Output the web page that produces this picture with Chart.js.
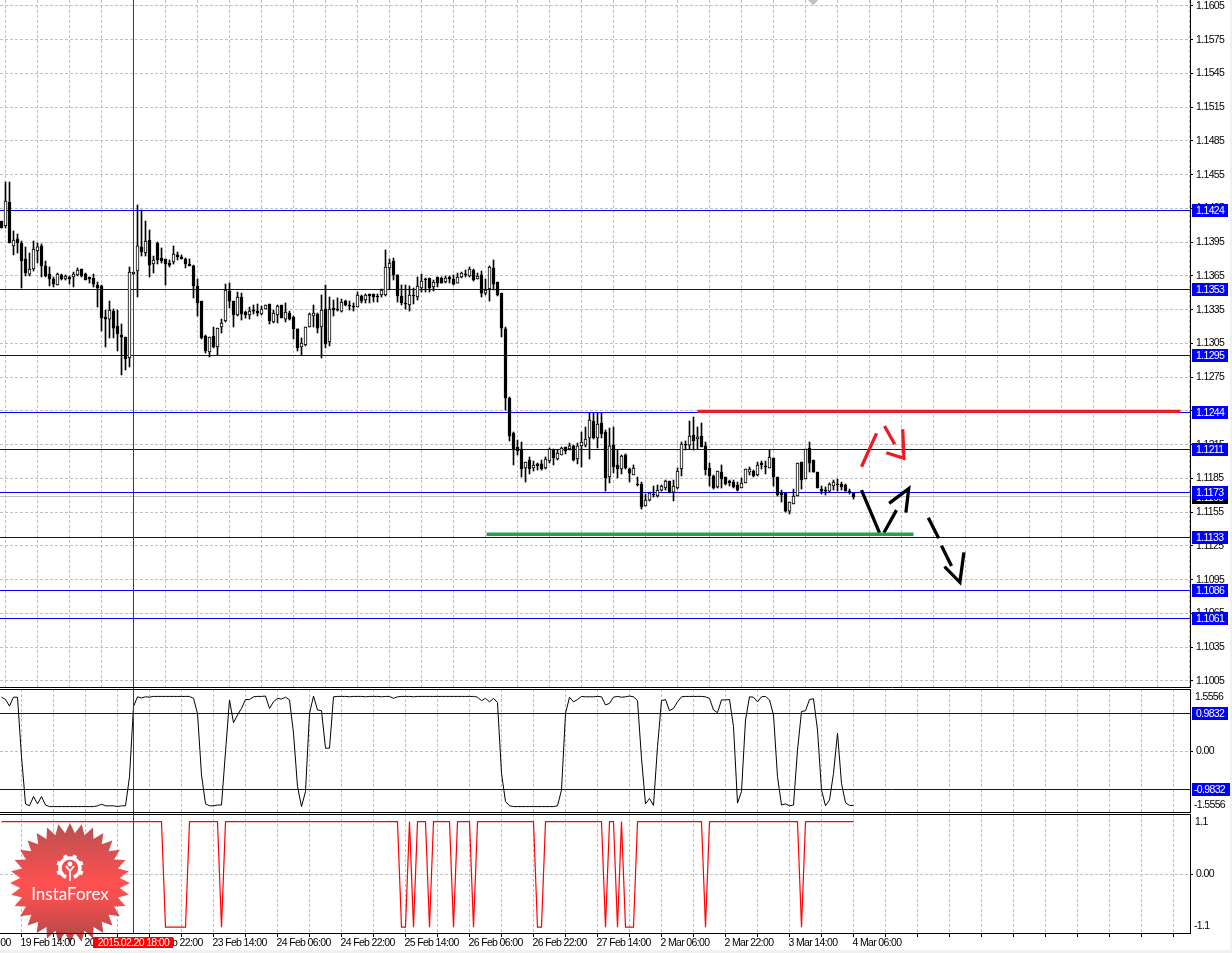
<!DOCTYPE html>
<html>
<head>
<meta charset="utf-8">
<title>EUR/USD H1</title>
<style>
  html, body { margin: 0; background: #f0f0f0; }
  #wrap { position: relative; width: 1230px; height: 950px; background: #fff; overflow: hidden; }
  canvas { position: absolute; left: 0; }
</style>
<script src="https://cdn.jsdelivr.net/npm/chart.js@4"></script>
</head>
<body>
<div id="wrap">
  <canvas id="priceChart" width="1230" height="688" style="top:0"></canvas>
  <canvas id="oscChart" width="1230" height="125" style="top:688px"></canvas>
  <canvas id="stepChart" width="1230" height="137" style="top:813px"></canvas>
</div>
<script>
// hourly candles
const opens = [
1.14138,1.14094,1.14307,1.13917,1.13979,1.13943,1.13801,1.13667,1.13712,1.13872,
1.13917,1.13739,1.13667,1.13623,1.13570,1.13659,1.13623,1.13641,1.13641,1.13659,
1.13712,1.13667,1.13641,1.13632,1.13570,1.13561,1.13285,1.13267,1.13338,1.13205,
1.13125,1.13107,1.12921,1.13685,1.13694,1.13908,1.13854,1.13970,1.13756,1.13943,
1.13810,1.13801,1.13765,1.13774,1.13837,1.13819,1.13801,1.13756,1.13739,1.13561,
1.13427,1.13116,1.12974,1.13116,1.13019,1.13196,1.13250,1.13516,1.13427,1.13303,
1.13463,1.13329,1.13303,1.13347,1.13338,1.13312,1.13356,1.13401,1.13241,1.13303,
1.13392,1.13267,1.13321,1.13285,1.13179,1.13019,1.13037,1.13196,1.13294,1.13312,
1.13196,1.13356,1.13063,1.13365,1.13356,1.13338,1.13427,1.13392,1.13383,1.13374,
1.13472,1.13436,1.13490,1.13490,1.13472,1.13481,1.13481,1.13721,1.13783,1.13659,
1.13472,1.13410,1.13392,1.13481,1.13463,1.13543,1.13623,1.13632,1.13552,1.13641,
1.13632,1.13596,1.13641,1.13623,1.13587,1.13641,1.13667,1.13650,1.13703,1.13623,
1.13659,1.13498,1.13534,1.13721,1.13596,1.13498,1.13179,1.12565,1.12254,1.12130,
1.12112,1.11943,1.12014,1.11943,1.11979,1.11979,1.11943,1.12005,1.12103,1.12023,
1.12059,1.12130,1.12112,1.12139,1.12023,1.12139,1.12147,1.12210,1.12361,1.12210,
1.12343,1.12263,1.11863,1.12147,1.11970,1.11934,1.12059,1.11934,1.11881,1.11801,
1.11801,1.11605,1.11658,1.11712,1.11694,1.11747,1.11765,1.11827,1.11729,1.11765,
1.11934,1.12156,1.12147,1.12236,1.12201,1.12227,1.12139,1.11943,1.11872,1.11774,
1.11907,1.11863,1.11827,1.11818,1.11792,1.11765,1.11810,1.11907,1.11916,1.11881,
1.11987,1.11961,1.11943,1.12032,1.11863,1.11721,1.11721,1.11560,1.11623,1.11694,
1.11996,1.11845,1.12121,1.12014,1.11907,1.11756,1.11747,1.11738,1.11783,1.11801,
1.11801,1.11792,1.11738,1.11721];
const highs = [
1.14138,1.14485,1.14485,1.14050,1.14023,1.13961,1.13908,1.13854,1.13961,1.13943,
1.13934,1.13783,1.13730,1.13641,1.13676,1.13667,1.13659,1.13650,1.13685,1.13721,
1.13712,1.13676,1.13641,1.13667,1.13596,1.13570,1.13347,1.13427,1.13356,1.13347,
1.13223,1.13107,1.13730,1.13685,1.14281,1.14236,1.14138,1.14059,1.13827,1.13952,
1.13899,1.13801,1.13792,1.13917,1.13863,1.13837,1.13810,1.13801,1.13747,1.13623,
1.13427,1.13125,1.13107,1.13196,1.13187,1.13267,1.13578,1.13587,1.13427,1.13507,
1.13498,1.13338,1.13374,1.13392,1.13401,1.13383,1.13392,1.13401,1.13347,1.13392,
1.13392,1.13410,1.13338,1.13294,1.13179,1.13099,1.13196,1.13321,1.13392,1.13321,
1.13481,1.13570,1.13463,1.13436,1.13454,1.13445,1.13436,1.13427,1.13410,1.13507,
1.13481,1.13490,1.13490,1.13490,1.13490,1.13534,1.13881,1.13801,1.13810,1.13659,
1.13570,1.13570,1.13561,1.13543,1.13641,1.13667,1.13632,1.13632,1.13614,1.13641,
1.13641,1.13650,1.13650,1.13659,1.13676,1.13685,1.13703,1.13730,1.13712,1.13676,
1.13694,1.13623,1.13739,1.13792,1.13596,1.13498,1.13196,1.12574,1.12263,1.12192,
1.12174,1.11996,1.12041,1.12005,1.11987,1.12014,1.12041,1.12121,1.12112,1.12103,
1.12130,1.12130,1.12165,1.12147,1.12165,1.12263,1.12307,1.12432,1.12432,1.12432,
1.12432,1.12281,1.12298,1.12307,1.12103,1.12059,1.12068,1.11943,1.11970,1.11863,
1.11818,1.11712,1.11729,1.11783,1.11792,1.11792,1.11836,1.11827,1.11836,1.11943,
1.12174,1.12183,1.12361,1.12396,1.12307,1.12343,1.12174,1.11987,1.11881,1.11916,
1.11970,1.11863,1.11836,1.11836,1.11818,1.11854,1.11934,1.11952,1.11925,1.11996,
1.12005,1.12005,1.12103,1.12032,1.11863,1.11747,1.11721,1.11641,1.11756,1.11987,
1.11996,1.12112,1.12174,1.12014,1.11907,1.11783,1.11774,1.11810,1.11836,1.11845,
1.11818,1.11801,1.11756,1.11721];
const lows = [
1.14076,1.14076,1.13943,1.13837,1.13854,1.13543,1.13650,1.13650,1.13694,1.13765,
1.13641,1.13641,1.13561,1.13552,1.13570,1.13614,1.13614,1.13578,1.13552,1.13650,
1.13641,1.13614,1.13587,1.13552,1.13374,1.13161,1.13019,1.13099,1.13099,1.12983,
1.12770,1.12814,1.12841,1.13667,1.13463,1.13827,1.13827,1.13641,1.13676,1.13756,
1.13765,1.13570,1.13730,1.13756,1.13792,1.13801,1.13721,1.13739,1.13454,1.13294,
1.13090,1.12965,1.12930,1.13010,1.12947,1.13143,1.13241,1.13365,1.13196,1.13294,
1.13258,1.13276,1.13267,1.13312,1.13294,1.13303,1.13356,1.13223,1.13232,1.13232,
1.13276,1.13241,1.13258,1.13090,1.12983,1.12947,1.13028,1.13196,1.13196,1.13143,
1.12921,1.13010,1.13028,1.13294,1.13338,1.13329,1.13383,1.13347,1.13338,1.13374,
1.13410,1.13410,1.13410,1.13418,1.13418,1.13463,1.13472,1.13534,1.13614,1.13418,
1.13392,1.13356,1.13338,1.13401,1.13436,1.13507,1.13507,1.13507,1.13516,1.13552,
1.13587,1.13587,1.13587,1.13570,1.13587,1.13632,1.13641,1.13641,1.13605,1.13623,
1.13463,1.13481,1.13427,1.13525,1.13472,1.13107,1.12458,1.12183,1.11970,1.12059,
1.11863,1.11818,1.11890,1.11916,1.11925,1.11925,1.11934,1.11987,1.11970,1.12014,
1.12059,1.12068,1.12103,1.12005,1.11979,1.11952,1.12130,1.12023,1.12201,1.12121,
1.12210,1.11738,1.11810,1.11898,1.11854,1.11890,1.11934,1.11818,1.11881,1.11783,
1.11578,1.11605,1.11650,1.11685,1.11685,1.11738,1.11747,1.11721,1.11650,1.11756,
1.11872,1.12103,1.12112,1.12103,1.12112,1.12130,1.11881,1.11783,1.11756,1.11765,
1.11765,1.11792,1.11783,1.11765,1.11738,1.11765,1.11810,1.11881,1.11863,1.11872,
1.11934,1.11890,1.11943,1.11783,1.11694,1.11641,1.11551,1.11534,1.11623,1.11694,
1.11756,1.11845,1.11907,1.11907,1.11765,1.11712,1.11703,1.11729,1.11747,1.11738,
1.11747,1.11738,1.11712,1.11667];
const closes = [
1.14076,1.14316,1.13943,1.13970,1.13943,1.13783,1.13676,1.13712,1.13890,1.13908,
1.13739,1.13650,1.13623,1.13578,1.13667,1.13623,1.13650,1.13623,1.13667,1.13703,
1.13650,1.13614,1.13623,1.13578,1.13543,1.13276,1.13267,1.13347,1.13187,1.13134,
1.13107,1.12912,1.13685,1.13667,1.13917,1.13863,1.13961,1.13747,1.13792,1.13792,
1.13783,1.13756,1.13747,1.13845,1.13819,1.13801,1.13756,1.13739,1.13561,1.13410,
1.13099,1.12983,1.13107,1.13019,1.13187,1.13232,1.13525,1.13427,1.13303,1.13463,
1.13312,1.13303,1.13338,1.13338,1.13321,1.13356,1.13392,1.13250,1.13321,1.13383,
1.13276,1.13329,1.13267,1.13179,1.13010,1.13054,1.13196,1.13312,1.13321,1.13187,
1.13347,1.13045,1.13356,1.13347,1.13347,1.13418,1.13392,1.13383,1.13374,1.13481,
1.13427,1.13481,1.13472,1.13463,1.13463,1.13525,1.13730,1.13765,1.13659,1.13472,
1.13410,1.13401,1.13481,1.13472,1.13561,1.13605,1.13614,1.13543,1.13596,1.13587,
1.13587,1.13632,1.13623,1.13578,1.13641,1.13676,1.13659,1.13712,1.13614,1.13650,
1.13498,1.13525,1.13730,1.13578,1.13481,1.13187,1.12565,1.12227,1.12112,1.12094,
1.11934,1.11996,1.11934,1.11970,1.11961,1.11934,1.12023,1.12112,1.12032,1.12076,
1.12121,1.12094,1.12139,1.12014,1.12139,1.12174,1.12201,1.12369,1.12210,1.12334,
1.12245,1.11854,1.12139,1.11952,1.11934,1.12050,1.11943,1.11898,1.11943,1.11792,
1.11596,1.11658,1.11721,1.11703,1.11747,1.11783,1.11827,1.11729,1.11783,1.11916,
1.12156,1.12147,1.12227,1.12183,1.12219,1.12130,1.11925,1.11872,1.11765,1.11916,
1.11845,1.11801,1.11810,1.11774,1.11747,1.11810,1.11934,1.11934,1.11872,1.11970,
1.11970,1.11952,1.12041,1.11863,1.11703,1.11703,1.11560,1.11641,1.11694,1.11987,
1.11836,1.12112,1.11987,1.11907,1.11765,1.11738,1.11738,1.11801,1.11818,1.11792,
1.11774,1.11738,1.11729,1.11685];

const oscValues = [
1.40,1.34,1.17,1.40,1.40,-0.14,-1.36,-1.41,-1.17,-1.36,
-1.17,-1.39,-1.43,-1.43,-1.43,-1.43,-1.43,-1.43,-1.43,-1.43,
-1.43,-1.43,-1.43,-1.43,-1.41,-1.37,-1.41,-1.41,-1.41,-1.43,
-1.41,-1.41,-0.66,1.16,1.41,1.38,1.41,1.40,1.42,1.42,
1.42,1.42,1.42,1.42,1.42,1.42,1.42,1.42,1.37,0.98,
-0.61,-1.36,-1.41,-1.41,-1.39,-1.39,-0.01,1.33,0.74,0.94,
1.11,1.34,1.34,1.41,1.42,1.42,1.43,1.11,1.28,1.37,
1.35,1.40,1.33,0.47,-0.91,-1.43,-1.04,0.98,1.43,1.07,
1.05,0.08,0.08,1.41,1.42,1.42,1.42,1.41,1.42,1.42,
1.42,1.41,1.42,1.42,1.42,1.41,1.42,1.42,1.37,1.41,
1.42,1.42,1.42,1.41,1.42,1.42,1.42,1.42,1.42,1.42,
1.42,1.42,1.42,1.42,1.42,1.42,1.42,1.42,1.42,1.40,
1.31,1.37,1.28,1.37,1.26,-0.57,-1.30,-1.41,-1.43,-1.43,
-1.43,-1.43,-1.43,-1.43,-1.43,-1.43,-1.43,-1.43,-1.43,-1.41,
-1.00,0.98,1.40,1.28,1.34,1.42,1.41,1.41,1.41,1.42,
1.41,1.20,1.24,1.40,1.42,1.40,1.41,1.43,1.41,1.31,
-0.18,-1.36,-1.22,-1.40,0.12,1.31,1.34,1.05,1.11,1.28,
1.41,1.42,1.42,1.42,1.42,1.42,1.41,1.37,1.07,1.00,
1.33,1.33,1.34,0.64,-1.34,-1.04,0.81,1.41,1.40,1.28,
1.41,1.42,1.33,0.94,-0.66,-1.39,-1.36,-1.41,-1.39,0.03,
1.03,1.05,1.34,1.36,0.55,-1.00,-1.41,-1.26,-0.57,0.47,
-0.83,-1.33,-1.40,-1.40];
const stepValues = [
1,1,1,1,1,1,1,1,1,1, 1,1,1,1,1,1,1,1,1,1,
1,1,1,1,1,1,1,1,1,1, 1,1,1,1,1,1,1,1,1,1,
1,-1,-1,-1,-1,-1,-1,1,1,1, 1,1,1,1,1,-1,1,1,1,1,
1,1,1,1,1,1,1,1,1,1, 1,1,1,1,1,1,1,1,1,1,
1,1,1,1,1,1,1,1,1,1, 1,1,1,1,1,1,1,1,1,1,
-1,-1,1,-1,1,1,1,-1,1,1, 1,1,1,-1,1,1,1,1,-1,1,
1,1,1,1,1,1,1,1,1,1, 1,1,1,1,-1,-1,1,1,1,1,
1,1,1,1,1,1,1,1,1,1, 1,-1,1,1,-1,1,-1,-1,-1,1,
1,1,1,1,1,1,1,1,1,1, 1,1,1,1,1,1,-1,1,1,1,
1,1,1,1,1,1,1,1,1,1, 1,1,1,1,1,1,1,1,1,1,
-1,1,1,1,1,1,1,1,1,1, 1,1,1,1];

const priceTicks = [1.1605,1.1575,1.1545,1.1515,1.1485,1.1455,1.1425,1.1395,1.1365,1.1335,1.1305,1.1275,1.1245,1.1215,1.1185,1.1155,1.1125,1.1095,1.1065,1.1035,1.1005];
const brightLevels = [1.1424,1.1244,1.1173,1.1086,1.1061];
const darkLevels = [1.1353,1.1295,1.1211,1.1133];
const bidPrice = 1.1169;
const oscLevels = [0.9832,-0.9832];
const oscEdgeLabels = [1.5556,-1.5556];
const stepEdgeLabels = [1.1,-1.1];

const xLabelIndex = [-11,5,21,37,53,69,85,101,117,133,149,165,181,197,213];
const xLabels = ["18 Feb 22:00","19 Feb 14:00","20 Feb 06:00","20 Feb 22:00","23 Feb 14:00","24 Feb 06:00","24 Feb 22:00","25 Feb 14:00","26 Feb 06:00","26 Feb 22:00","27 Feb 14:00","2 Mar 06:00","2 Mar 22:00","3 Mar 14:00","4 Mar 06:00"];
const crossIndex = 33;
const crossLabel = "2015.02.20 18:00";

// hand drawn lines on the chart, x in candle numbers, null breaks the line
const redLineIdx = [174,294.75];
const redLinePrice = [1.12446,1.12446];
const greenLineIdx = [121.25,228];
const greenLinePrice = [1.11354,1.11354];
const redMarkIdx = [215,218.75,null,220.75,223.3,null,221.2,225.6,225.3];
const redMarkPrice = [1.11954,1.12251,null,1.12316,1.12154,null,1.12079,1.12029,1.12287];
const blackMarkIdx = [215,219.5,null,220.6,223.75,null,221.9,226.8,226.1,null,231.7,234.3,null,235,237.5,null,235.75,239.6,240.6];
const blackMarkPrice = [1.11747,1.11367,null,1.11367,1.11569,null,1.11629,1.11759,1.11546,null,1.11501,1.11318,null,1.11252,1.11072,null,1.11066,1.10927,1.11193];
const markerIdx = [202.9];
const markerPrice = [1.1610];

const axisFamily = "'Liberation Sans',sans-serif";
const axisFont = "10.5px " + axisFamily;
const gridColor = "#c0c0c0";
const AXIS_LEFT = 1190;

Chart.defaults.animation = false;
Chart.defaults.font.family = axisFamily;
Chart.defaults.font.size = 10.5;
Chart.defaults.color = "#000";

// the terminal font is narrower than anything installed
Chart.register({
  id: "tightText",
  beforeDraw(chart) { chart.ctx.letterSpacing = "-0.65px"; },
});

const gridIndex = [];
for (let k = 5; k < 297; k += 8) gridIndex.push(k);

function tag(ctx, y, text, bg, width) {
  const w = width || 36;
  ctx.fillStyle = bg;
  ctx.fillRect(1192, y - 6, w, 13);
  ctx.fillStyle = "#fff";
  ctx.font = axisFont;
  ctx.textAlign = "left";
  ctx.textBaseline = "middle";
  ctx.fillText(text, w > 36 ? 1194 : 1196, y + 1);
}

function hline(ctx, y, color) {
  ctx.strokeStyle = color;
  ctx.lineWidth = 1;
  ctx.beginPath();
  ctx.moveTo(0, y + 0.5);
  ctx.lineTo(AXIS_LEFT, y + 0.5);
  ctx.stroke();
}

function drawFrame(chart, withTop) {
  const ctx = chart.ctx;
  const { top, bottom } = chart.chartArea;
  ctx.strokeStyle = "#000";
  ctx.lineWidth = 1;
  ctx.beginPath();
  if (withTop) {
    ctx.moveTo(0, Math.round(top) + 0.5);
    ctx.lineTo(AXIS_LEFT, Math.round(top) + 0.5);
  }
  ctx.moveTo(0, Math.round(bottom) - 0.5);
  ctx.lineTo(AXIS_LEFT, Math.round(bottom) - 0.5);
  ctx.moveTo(AXIS_LEFT + 0.5, Math.round(top));
  ctx.lineTo(AXIS_LEFT + 0.5, Math.round(bottom));
  ctx.stroke();
}

function drawCross(chart) {
  const ctx = chart.ctx;
  const x = Math.floor(chart.scales.x.getPixelForValue(crossIndex)) + 0.5;
  ctx.strokeStyle = "#d00000";
  ctx.lineWidth = 1;
  ctx.beginPath();
  ctx.moveTo(x, 0);
  ctx.lineTo(x, chart.chartArea.bottom);
  ctx.stroke();
}

// InstaForex stamp, sits under the tick labels
function drawBadge(ctx) {
  const cx = 70, cy = 70, spikes = 32;
  const g = ctx.createLinearGradient(0, cy - 60, 0, cy + 60);
  g.addColorStop(0, "#b85050");
  g.addColorStop(0.5, "#ff5050");
  g.addColorStop(0.62, "#f55050");
  g.addColorStop(1, "#b24646");
  ctx.save();
  ctx.letterSpacing = "0px";
  ctx.fillStyle = g;
  ctx.beginPath();
  for (let i = 0; i < spikes * 2; i++) {
    const r = i % 2 ? 50 : 60;
    const a = (i * Math.PI) / spikes - Math.PI / 2;
    const px = cx + r * Math.cos(a), py = cy + r * Math.sin(a);
    if (i === 0) ctx.moveTo(px, py); else ctx.lineTo(px, py);
  }
  ctx.closePath();
  ctx.fill();

  // gear, open at the bottom
  const gy = 55;
  ctx.strokeStyle = "#fff";
  ctx.fillStyle = "#fff";
  ctx.lineWidth = 3.5;
  ctx.beginPath();
  ctx.arc(cx, gy, 10, Math.PI / 2 + 0.4, Math.PI * 2.5 - 0.4);
  ctx.stroke();
  for (let i = 0; i < 8; i++) {
    const a = (i * Math.PI) / 4 + Math.PI / 8;
    if (Math.sin(a) > 0.8) continue;
    ctx.save();
    ctx.translate(cx + 12 * Math.cos(a), gy + 12 * Math.sin(a));
    ctx.rotate(a);
    ctx.fillRect(-1.8, -2, 3.6, 4);
    ctx.restore();
  }
  ctx.beginPath();
  ctx.arc(cx, gy - 4, 2.4, 0, Math.PI * 2);
  ctx.fill();
  ctx.lineWidth = 1.8;
  ctx.beginPath();
  ctx.moveTo(cx - 4, gy - 2);
  ctx.lineTo(cx, gy + 3);
  ctx.lineTo(cx + 4, gy - 2);
  ctx.moveTo(cx, gy + 2);
  ctx.lineTo(cx, gy + 13);
  ctx.stroke();

  ctx.font = "17px Lato, sans-serif";
  ctx.textAlign = "center";
  ctx.textBaseline = "middle";
  ctx.fillText("InstaForex", cx, 82);
  ctx.restore();
}

function flatPadding(s) {
  s.paddingLeft = 0;
  s.paddingRight = 0;
  s.paddingTop = 0;
  s.paddingBottom = 0;
}

function xScale(showLabels) {
  return {
    type: "linear",
    offset: false,
    min: -0.375,
    max: 297.125,
    afterBuildTicks(s) { s.ticks = gridIndex.map((v) => ({ value: v })); },
    afterFit(s) {
      s.height = showLabels ? 16 : 0;
      flatPadding(s);
    },
    border: { display: false, dash: [3, 2] },
    grid: {
      color: gridColor,
      drawTicks: showLabels,
      tickLength: 3,
      tickColor: "#000",
      tickBorderDash: [],
    },
    ticks: {
      display: showLabels,
      autoSkip: false,
      maxRotation: 0,
      align: "start",
      padding: 0,
      labelOffset: -1,
      z: 1,
      callback(v) {
        const i = xLabelIndex.indexOf(v);
        return i < 0 ? "" : xLabels[i];
      },
    },
  };
}

function yScale(min, max, tickVals, fmt) {
  return {
    position: "right",
    min: min,
    max: max,
    afterBuildTicks(s) { s.ticks = tickVals.map((v) => ({ value: v })); },
    afterFit(s) {
      s.width = 40;
      flatPadding(s);
    },
    border: { display: false, dash: [3, 2] },
    grid: { color: gridColor, tickLength: 3, tickColor: "#000", tickBorderDash: [] },
    ticks: { autoSkip: false, padding: 3, callback: fmt },
  };
}

function baseOptions(showLabels, y, padding) {
  return {
    responsive: false,
    events: [],
    layout: { padding: padding, autoPadding: false },
    plugins: { legend: { display: false }, tooltip: { enabled: false } },
    scales: { x: xScale(showLabels), y: y },
  };
}

function linePoints(xs, ys) {
  return xs.map((x, i) => ({ x: x, y: ys[i] }));
}

function markDataset(xs, ys, color, width) {
  return {
    type: "line",
    data: linePoints(xs, ys),
    borderColor: color,
    borderWidth: width,
    pointRadius: 0,
    spanGaps: false,
    order: 0,
  };
}

const idx = opens.map((_, i) => i);

new Chart(document.getElementById("priceChart"), {
  type: "bar",
  data: {
    datasets: [
      {
        data: idx.map((i) => ({ x: i, y: [lows[i], highs[i]] })),
        backgroundColor: "#000",
        barThickness: 1,
        grouped: false,
        order: 2,
      },
      {
        data: idx.map((i) => ({ x: i, y: [opens[i], closes[i]] })),
        backgroundColor: idx.map((i) => (closes[i] > opens[i] ? "#fff" : "#000")),
        borderColor: "#000",
        borderWidth: 1,
        borderSkipped: false,
        barThickness: 3,
        grouped: false,
        order: 1,
      },
      markDataset(redLineIdx, redLinePrice, "#ed1c24", 3.3),
      markDataset(greenLineIdx, greenLinePrice, "#22a34a", 3.3),
      markDataset(redMarkIdx, redMarkPrice, "#ed1c24", 3.3),
      markDataset(blackMarkIdx, blackMarkPrice, "#000", 3.3),
      {
        type: "scatter",
        data: linePoints(markerIdx, markerPrice),
        pointStyle: "rectRot",
        pointRadius: 5,
        backgroundColor: "#c0c0c0",
        borderWidth: 0,
        order: 0,
      },
    ],
  },
  options: baseOptions(false, yScale(1.16103 - 688 / 11250, 1.16103, priceTicks, (v) => v.toFixed(4)), 0),
  plugins: [{
    id: "priceDecor",
    beforeDatasetsDraw(chart) {
      const ctx = chart.ctx, y = chart.scales.y;
      hline(ctx, Math.round(y.getPixelForValue(bidPrice)), "#c0c0c0");
      darkLevels.forEach((v) => hline(ctx, Math.round(y.getPixelForValue(v)), "#0000c0"));
      brightLevels.forEach((v) => hline(ctx, Math.round(y.getPixelForValue(v)), "#0000ff"));
    },
    afterDatasetsDraw(chart) { drawCross(chart); },
    afterDraw(chart) {
      const ctx = chart.ctx, y = chart.scales.y;
      drawFrame(chart, false);
      tag(ctx, Math.round(y.getPixelForValue(bidPrice)) + 1, bidPrice.toFixed(4), "#000");
      brightLevels.concat(darkLevels).forEach((v) => tag(ctx, Math.round(y.getPixelForValue(v)), v.toFixed(4), "#0000ff"));
    },
  }],
});

new Chart(document.getElementById("oscChart"), {
  type: "line",
  data: {
    datasets: [{
      data: linePoints(idx, oscValues),
      borderColor: "#000",
      borderWidth: 1,
      pointRadius: 0,
    }],
  },
  options: baseOptions(false, yScale(-1.596, 1.612, [0], () => "0.00"), { top: 1 }),
  plugins: [{
    id: "oscDecor",
    beforeDatasetsDraw(chart) {
      oscLevels.forEach((v) => hline(chart.ctx, Math.floor(chart.scales.y.getPixelForValue(v)), "#0000c0"));
    },
    afterDatasetsDraw(chart) { drawCross(chart); },
    afterDraw(chart) {
      const ctx = chart.ctx, y = chart.scales.y;
      drawFrame(chart, true);
      ctx.fillStyle = "#000";
      ctx.font = axisFont;
      ctx.textAlign = "left";
      ctx.textBaseline = "middle";
      ctx.fillText(oscEdgeLabels[0].toFixed(4), 1195, y.getPixelForValue(oscEdgeLabels[0]) + 6);
      ctx.fillText(oscEdgeLabels[1].toFixed(4), 1194, y.getPixelForValue(oscEdgeLabels[1]) - 6);
      oscLevels.forEach((v) => tag(ctx, Math.floor(y.getPixelForValue(v)), v.toFixed(4), "#0000ff", v < 0 ? 38 : 36));
    },
  }],
});

new Chart(document.getElementById("stepChart"), {
  type: "line",
  data: {
    datasets: [{
      data: linePoints(idx, stepValues),
      borderColor: "#ff0000",
      borderWidth: 1.2,
      pointRadius: 0,
    }],
  },
  options: baseOptions(true, yScale(-1.129, 1.144, [0], () => "0.00"), { top: 1 }),
  plugins: [{
    id: "stepDecor",
    beforeDatasetsDraw(chart) { drawBadge(chart.ctx); },
    afterDatasetsDraw(chart) { drawCross(chart); },
    afterDraw(chart) {
      const ctx = chart.ctx, y = chart.scales.y, x = chart.scales.x;
      const bottom = chart.chartArea.bottom;
      drawFrame(chart, true);
      ctx.fillStyle = "#000";
      ctx.font = axisFont;
      ctx.textAlign = "left";
      ctx.textBaseline = "middle";
      ctx.fillText(stepEdgeLabels[0].toFixed(1), 1195, y.getPixelForValue(stepEdgeLabels[0]) + 6);
      ctx.fillText(stepEdgeLabels[1].toFixed(1), 1194, y.getPixelForValue(stepEdgeLabels[1]) - 6);
      // this label starts left of the window, only its end shows
      ctx.fillText(xLabels[0], x.getPixelForValue(xLabelIndex[0]) - 1, bottom + 9);
      // date tag under the crosshair
      const cx = x.getPixelForValue(crossIndex);
      ctx.fillStyle = "#ff0000";
      ctx.fillRect(cx - 40.5, bottom + 3, 80, 11);
      ctx.fillStyle = "#fff";
      ctx.textAlign = "center";
      ctx.fillText(crossLabel, cx, bottom + 9);
    },
  }],
});
</script>
</body>
</html>
